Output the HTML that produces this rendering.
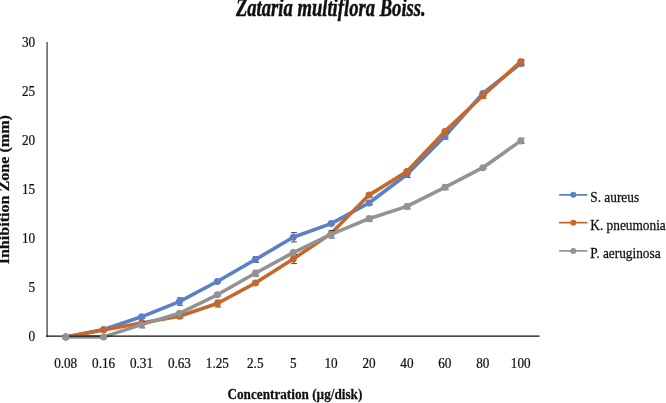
<!DOCTYPE html><html><head><meta charset="utf-8"><title>Zataria multiflora Boiss.</title>
<style>html,body{margin:0;padding:0;background:#fff}svg{display:block}text{font-family:"Liberation Serif","Times New Roman",serif;fill:#111;stroke:#111;stroke-width:0.25px}</style></head><body>
<svg width="666" height="403" viewBox="0 0 666 403">
<rect width="666" height="403" fill="#fff"/>
<line x1="47.1" y1="41.9" x2="47.1" y2="337.0" stroke="#333" stroke-width="1.2"/>
<path d="M142.3 315.3V318.3M139.3 315.3h6M139.3 318.3h6" stroke="#222" stroke-width="0.8" fill="none"/>
<path d="M180.2 297.8V305.3M177.2 297.8h6M177.2 305.3h6" stroke="#222" stroke-width="0.8" fill="none"/>
<path d="M218.1 280.5V282.4M215.1 280.5h6M215.1 282.4h6" stroke="#222" stroke-width="0.8" fill="none"/>
<path d="M256.1 256.6V262.5M253.1 256.6h6M253.1 262.5h6" stroke="#222" stroke-width="0.8" fill="none"/>
<path d="M294.0 232.6V242.0M291.0 232.6h6M291.0 242.0h6" stroke="#222" stroke-width="0.8" fill="none"/>
<path d="M331.9 222.6V224.6M328.9 222.6h6M328.9 224.6h6" stroke="#222" stroke-width="0.8" fill="none"/>
<path d="M369.8 201.0V204.9M366.8 201.0h6M366.8 204.9h6" stroke="#222" stroke-width="0.8" fill="none"/>
<path d="M407.7 171.6V177.5M404.7 171.6h6M404.7 177.5h6" stroke="#222" stroke-width="0.8" fill="none"/>
<path d="M445.7 133.3V139.2M442.7 133.3h6M442.7 139.2h6" stroke="#222" stroke-width="0.8" fill="none"/>
<path d="M483.6 91.5V95.5M480.6 91.5h6M480.6 95.5h6" stroke="#222" stroke-width="0.8" fill="none"/>
<path d="M521.5 61.0V65.9M518.5 61.0h6M518.5 65.9h6" stroke="#222" stroke-width="0.8" fill="none"/>
<polyline points="65.7,336.9 103.6,329.5 141.5,316.8 179.4,301.6 217.3,281.5 255.3,259.6 293.2,237.3 331.1,223.6 369.0,203.0 406.9,174.5 444.9,136.3 482.8,93.5 520.7,63.5" fill="none" stroke="#5b80c8" stroke-width="3.6" stroke-linejoin="round" stroke-linecap="round"/>
<circle cx="65.7" cy="336.9" r="3.5" fill="#5b80c8"/>
<circle cx="103.6" cy="329.5" r="3.5" fill="#5b80c8"/>
<circle cx="141.5" cy="316.8" r="3.5" fill="#5b80c8"/>
<circle cx="179.4" cy="301.6" r="3.5" fill="#5b80c8"/>
<circle cx="217.3" cy="281.5" r="3.5" fill="#5b80c8"/>
<circle cx="255.3" cy="259.6" r="3.5" fill="#5b80c8"/>
<circle cx="293.2" cy="237.3" r="3.5" fill="#5b80c8"/>
<circle cx="331.1" cy="223.6" r="3.5" fill="#5b80c8"/>
<circle cx="369.0" cy="203.0" r="3.5" fill="#5b80c8"/>
<circle cx="406.9" cy="174.5" r="3.5" fill="#5b80c8"/>
<circle cx="444.9" cy="136.3" r="3.5" fill="#5b80c8"/>
<circle cx="482.8" cy="93.5" r="3.5" fill="#5b80c8"/>
<circle cx="520.7" cy="63.5" r="3.5" fill="#5b80c8"/>
<path d="M142.3 322.0V323.9M139.3 322.0h6M139.3 323.9h6" stroke="#222" stroke-width="0.8" fill="none"/>
<path d="M180.2 314.3V318.3M177.2 314.3h6M177.2 318.3h6" stroke="#222" stroke-width="0.8" fill="none"/>
<path d="M218.1 300.1V307.0M215.1 300.1h6M215.1 307.0h6" stroke="#222" stroke-width="0.8" fill="none"/>
<path d="M256.1 282.2V284.1M253.1 282.2h6M253.1 284.1h6" stroke="#222" stroke-width="0.8" fill="none"/>
<path d="M294.0 254.4V263.6M291.0 254.4h6M291.0 263.6h6" stroke="#222" stroke-width="0.8" fill="none"/>
<path d="M331.9 232.4V234.4M328.9 232.4h6M328.9 234.4h6" stroke="#222" stroke-width="0.8" fill="none"/>
<path d="M369.8 193.2V197.1M366.8 193.2h6M366.8 197.1h6" stroke="#222" stroke-width="0.8" fill="none"/>
<path d="M407.7 169.6V173.6M404.7 169.6h6M404.7 173.6h6" stroke="#222" stroke-width="0.8" fill="none"/>
<path d="M445.7 129.9V132.8M442.7 129.9h6M442.7 132.8h6" stroke="#222" stroke-width="0.8" fill="none"/>
<path d="M483.6 93.3V98.2M480.6 93.3h6M480.6 98.2h6" stroke="#222" stroke-width="0.8" fill="none"/>
<path d="M521.5 59.3V64.2M518.5 59.3h6M518.5 64.2h6" stroke="#222" stroke-width="0.8" fill="none"/>
<polyline points="65.7,336.9 103.6,330.0 141.5,323.0 179.4,316.3 217.3,303.5 255.3,283.1 293.2,259.0 331.1,233.4 369.0,195.1 406.9,171.6 444.9,131.4 482.8,95.8 520.7,61.7" fill="none" stroke="#c5682b" stroke-width="3.6" stroke-linejoin="round" stroke-linecap="round"/>
<circle cx="65.7" cy="336.9" r="3.5" fill="#c5682b"/>
<circle cx="103.6" cy="330.0" r="3.5" fill="#c5682b"/>
<circle cx="141.5" cy="323.0" r="3.5" fill="#c5682b"/>
<circle cx="179.4" cy="316.3" r="3.5" fill="#c5682b"/>
<circle cx="217.3" cy="303.5" r="3.5" fill="#c5682b"/>
<circle cx="255.3" cy="283.1" r="3.5" fill="#c5682b"/>
<circle cx="293.2" cy="259.0" r="3.5" fill="#c5682b"/>
<circle cx="331.1" cy="233.4" r="3.5" fill="#c5682b"/>
<circle cx="369.0" cy="195.1" r="3.5" fill="#c5682b"/>
<circle cx="406.9" cy="171.6" r="3.5" fill="#c5682b"/>
<circle cx="444.9" cy="131.4" r="3.5" fill="#c5682b"/>
<circle cx="482.8" cy="95.8" r="3.5" fill="#c5682b"/>
<circle cx="520.7" cy="61.7" r="3.5" fill="#c5682b"/>
<path d="M142.3 321.4V327.9M139.3 321.4h6M139.3 327.9h6" stroke="#222" stroke-width="0.8" fill="none"/>
<path d="M180.2 312.4V314.3M177.2 312.4h6M177.2 314.3h6" stroke="#222" stroke-width="0.8" fill="none"/>
<path d="M218.1 293.8V295.8M215.1 293.8h6M215.1 295.8h6" stroke="#222" stroke-width="0.8" fill="none"/>
<path d="M256.1 270.3V276.2M253.1 270.3h6M253.1 276.2h6" stroke="#222" stroke-width="0.8" fill="none"/>
<path d="M294.0 250.7V254.6M291.0 250.7h6M291.0 254.6h6" stroke="#222" stroke-width="0.8" fill="none"/>
<path d="M331.9 230.6V238.1M328.9 230.6h6M328.9 238.1h6" stroke="#222" stroke-width="0.8" fill="none"/>
<path d="M369.8 216.2V221.1M366.8 216.2h6M366.8 221.1h6" stroke="#222" stroke-width="0.8" fill="none"/>
<path d="M407.7 204.0V208.9M404.7 204.0h6M404.7 208.9h6" stroke="#222" stroke-width="0.8" fill="none"/>
<path d="M445.7 184.8V189.7M442.7 184.8h6M442.7 189.7h6" stroke="#222" stroke-width="0.8" fill="none"/>
<path d="M483.6 166.7V168.6M480.6 166.7h6M480.6 168.6h6" stroke="#222" stroke-width="0.8" fill="none"/>
<path d="M521.5 138.2V143.5M518.5 138.2h6M518.5 143.5h6" stroke="#222" stroke-width="0.8" fill="none"/>
<polyline points="65.7,336.9 103.6,336.9 141.5,324.6 179.4,313.3 217.3,294.8 255.3,273.2 293.2,252.6 331.1,234.4 369.0,218.7 406.9,206.4 444.9,187.3 482.8,167.7 520.7,140.9" fill="none" stroke="#939393" stroke-width="3.6" stroke-linejoin="round" stroke-linecap="round"/>
<line x1="46.1" y1="336.2" x2="539.6" y2="336.2" stroke="#111" stroke-width="1.25"/>
<circle cx="65.7" cy="336.9" r="3.5" fill="#939393"/>
<circle cx="103.6" cy="336.9" r="3.5" fill="#939393"/>
<circle cx="141.5" cy="324.6" r="3.5" fill="#939393"/>
<circle cx="179.4" cy="313.3" r="3.5" fill="#939393"/>
<circle cx="217.3" cy="294.8" r="3.5" fill="#939393"/>
<circle cx="255.3" cy="273.2" r="3.5" fill="#939393"/>
<circle cx="293.2" cy="252.6" r="3.5" fill="#939393"/>
<circle cx="331.1" cy="234.4" r="3.5" fill="#939393"/>
<circle cx="369.0" cy="218.7" r="3.5" fill="#939393"/>
<circle cx="406.9" cy="206.4" r="3.5" fill="#939393"/>
<circle cx="444.9" cy="187.3" r="3.5" fill="#939393"/>
<circle cx="482.8" cy="167.7" r="3.5" fill="#939393"/>
<circle cx="520.7" cy="140.9" r="3.5" fill="#939393"/>
<text id="title" transform="translate(330.80,15.90) scale(0.7450,1)" font-size="25" text-anchor="middle" font-weight="bold" font-style="italic" style="stroke-width:0.5px">Zataria multiflora Boiss.</text>
<text id="yt0" transform="translate(35.20,341.30) scale(0.9000,1)" font-size="14.67" text-anchor="end" font-weight="normal" font-style="normal">0</text>
<text id="yt1" transform="translate(35.20,292.25) scale(0.9000,1)" font-size="14.67" text-anchor="end" font-weight="normal" font-style="normal">5</text>
<text id="yt2" transform="translate(35.20,243.20) scale(0.9000,1)" font-size="14.67" text-anchor="end" font-weight="normal" font-style="normal">10</text>
<text id="yt3" transform="translate(35.20,194.15) scale(0.9000,1)" font-size="14.67" text-anchor="end" font-weight="normal" font-style="normal">15</text>
<text id="yt4" transform="translate(35.20,145.10) scale(0.9000,1)" font-size="14.67" text-anchor="end" font-weight="normal" font-style="normal">20</text>
<text id="yt5" transform="translate(35.20,96.05) scale(0.9000,1)" font-size="14.67" text-anchor="end" font-weight="normal" font-style="normal">25</text>
<text id="yt6" transform="translate(35.20,47.00) scale(0.9000,1)" font-size="14.67" text-anchor="end" font-weight="normal" font-style="normal">30</text>
<text id="xt0" transform="translate(65.66,367.80) scale(0.9000,1)" font-size="14.67" text-anchor="middle" font-weight="normal" font-style="normal">0.08</text>
<text id="xt1" transform="translate(103.58,367.80) scale(0.9000,1)" font-size="14.67" text-anchor="middle" font-weight="normal" font-style="normal">0.16</text>
<text id="xt2" transform="translate(141.50,367.80) scale(0.9000,1)" font-size="14.67" text-anchor="middle" font-weight="normal" font-style="normal">0.31</text>
<text id="xt3" transform="translate(179.42,367.80) scale(0.9000,1)" font-size="14.67" text-anchor="middle" font-weight="normal" font-style="normal">0.63</text>
<text id="xt4" transform="translate(217.34,367.80) scale(0.9000,1)" font-size="14.67" text-anchor="middle" font-weight="normal" font-style="normal">1.25</text>
<text id="xt5" transform="translate(255.26,367.80) scale(0.9000,1)" font-size="14.67" text-anchor="middle" font-weight="normal" font-style="normal">2.5</text>
<text id="xt6" transform="translate(293.18,367.80) scale(0.9000,1)" font-size="14.67" text-anchor="middle" font-weight="normal" font-style="normal">5</text>
<text id="xt7" transform="translate(331.10,367.80) scale(0.9000,1)" font-size="14.67" text-anchor="middle" font-weight="normal" font-style="normal">10</text>
<text id="xt8" transform="translate(369.02,367.80) scale(0.9000,1)" font-size="14.67" text-anchor="middle" font-weight="normal" font-style="normal">20</text>
<text id="xt9" transform="translate(406.94,367.80) scale(0.9000,1)" font-size="14.67" text-anchor="middle" font-weight="normal" font-style="normal">40</text>
<text id="xt10" transform="translate(444.86,367.80) scale(0.9000,1)" font-size="14.67" text-anchor="middle" font-weight="normal" font-style="normal">60</text>
<text id="xt11" transform="translate(482.78,367.80) scale(0.9000,1)" font-size="14.67" text-anchor="middle" font-weight="normal" font-style="normal">80</text>
<text id="xt12" transform="translate(520.70,367.80) scale(0.9000,1)" font-size="14.67" text-anchor="middle" font-weight="normal" font-style="normal">100</text>
<text id="xtitle" transform="translate(294.90,398.60) scale(0.8810,1)" font-size="15" text-anchor="middle" font-weight="bold" font-style="normal">Concentration (µg/disk)</text>
<text id="ytitle" transform="translate(9.40,189.70) rotate(-90) scale(1,0.8800)" font-size="16.1" text-anchor="middle" font-weight="bold" font-style="normal">Inhibition Zone (mm)</text>
<line x1="559.8" y1="194.8" x2="586.6" y2="194.8" stroke="#5b80c8" stroke-width="1.8" stroke-linecap="round"/>
<circle cx="573.3" cy="194.8" r="3" fill="#5b80c8"/>
<text id="lg0" transform="translate(590.30,201.70) scale(0.9520,1)" font-size="14" text-anchor="start" font-weight="normal" font-style="normal">S. aureus</text>
<line x1="559.8" y1="222.7" x2="586.6" y2="222.7" stroke="#c5682b" stroke-width="1.8" stroke-linecap="round"/>
<circle cx="573.3" cy="222.7" r="3" fill="#c5682b"/>
<text id="lg1" transform="translate(590.30,229.60) scale(0.9520,1)" font-size="14" text-anchor="start" font-weight="normal" font-style="normal">K. pneumonia</text>
<line x1="559.8" y1="250.9" x2="586.6" y2="250.9" stroke="#939393" stroke-width="1.8" stroke-linecap="round"/>
<circle cx="573.3" cy="250.9" r="3" fill="#939393"/>
<text id="lg2" transform="translate(590.30,257.80) scale(0.9520,1)" font-size="14" text-anchor="start" font-weight="normal" font-style="normal">P. aeruginosa</text>
</svg></body></html>
